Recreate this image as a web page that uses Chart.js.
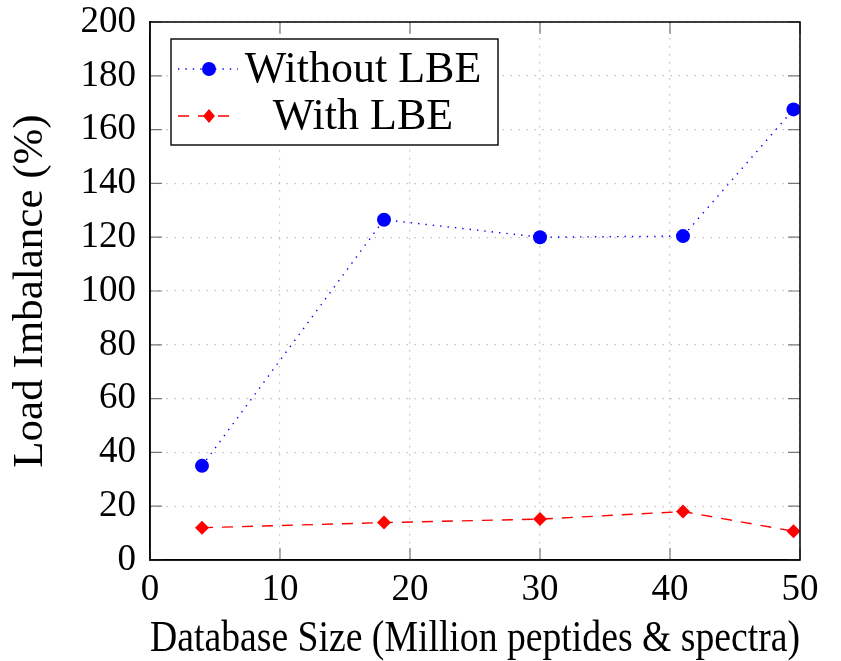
<!DOCTYPE html>
<html>
<head>
<meta charset="utf-8">
<script src="https://cdn.jsdelivr.net/npm/chart.js@4/dist/chart.umd.min.js"></script>
<style>
  html, body { margin: 0; padding: 0; background: #fff; }
  #wrap { width: 841px; height: 661px; }
</style>
</head>
<body>
<div id="wrap"><canvas id="c" width="841" height="661"></canvas></div>
<script>
// ---- data ----
const databaseSize = [4, 18, 30, 41, 49.5];
const withoutLBE = [35, 126.5, 120, 120.4, 167.5];
const withLBE = [12, 13.9, 15.2, 18, 10.7];
const seriesLabels = ['Without LBE', 'With LBE'];
const xTicks = [0, 10, 20, 30, 40, 50];
const yTicks = [0, 20, 40, 60, 80, 100, 120, 140, 160, 180, 200];
const xTitle = 'Database Size (Million peptides & spectra)';
const yTitle = 'Load Imbalance (%)';

const FONT = '"Liberation Serif", "Times New Roman", serif';

function toPoints(xs, ys) { return xs.map((x, i) => ({ x: x, y: ys[i] })); }

// frame + inward ticks (pgfplots style)
const framePlugin = {
  id: 'frame',
  afterDatasetsDraw(chart) {
    const { ctx, chartArea: a, scales } = chart;
    ctx.save();
    ctx.strokeStyle = '#777';
    ctx.lineWidth = 1.2;
    const L = 12;
    ctx.beginPath();
    xTicks.forEach(v => {
      const px = scales.x.getPixelForValue(v);
      ctx.moveTo(px, a.bottom); ctx.lineTo(px, a.bottom - L);
      ctx.moveTo(px, a.top); ctx.lineTo(px, a.top + L);
    });
    yTicks.forEach(v => {
      const py = scales.y.getPixelForValue(v);
      ctx.moveTo(a.left, py); ctx.lineTo(a.left + L, py);
      ctx.moveTo(a.right, py); ctx.lineTo(a.right - L, py);
    });
    ctx.stroke();
    ctx.strokeStyle = '#000';
    ctx.lineWidth = 1.5;
    ctx.strokeRect(a.left, a.top, a.right - a.left, a.bottom - a.top);
    ctx.restore();
  }
};

function drawMarker(ctx, style, r, x, y) {
  ctx.beginPath();
  if (style === 'circle') {
    ctx.arc(x, y, r, 0, Math.PI * 2);
  } else {
    ctx.moveTo(x, y - r); ctx.lineTo(x + r * 0.85, y); ctx.lineTo(x, y + r); ctx.lineTo(x - r * 0.85, y); ctx.closePath();
  }
  ctx.fill();
}

const legendPlugin = {
  id: 'boxLegend',
  afterDraw(chart) {
    const { ctx, chartArea: a } = chart;
    const x0 = a.left + 21, y0 = a.top + 17, w = 327, h = 106;
    ctx.save();
    ctx.fillStyle = '#fff';
    ctx.fillRect(x0, y0, w, h);
    ctx.strokeStyle = '#000';
    ctx.lineWidth = 1.4;
    ctx.strokeRect(x0, y0, w, h);
    chart.data.datasets.forEach((ds, i) => {
      const cy = y0 + 30 + i * 47;
      ctx.strokeStyle = ds.borderColor;
      ctx.lineWidth = ds.borderWidth;
      ctx.setLineDash(ds.borderDash);
      ctx.beginPath();
      ctx.moveTo(x0 + 7, cy); ctx.lineTo(x0 + 67, cy);
      ctx.stroke();
      ctx.setLineDash([]);
      ctx.fillStyle = ds.backgroundColor;
      drawMarker(ctx, ds.pointStyle === 'circle' ? 'circle' : 'diamond', ds.pointRadius, x0 + 38, cy);
      ctx.fillStyle = '#000';
      ctx.font = '44px ' + FONT;
      ctx.textAlign = 'center';
      ctx.textBaseline = 'middle';
      ctx.fillText(ds.label, x0 + 192, cy + 1);
    });
    ctx.restore();
  }
};

new Chart(document.getElementById('c'), {
  type: 'line',
  data: {
    datasets: [
      {
        label: seriesLabels[0],
        data: toPoints(databaseSize, withoutLBE),
        borderColor: '#0000ff',
        backgroundColor: '#0000ff',
        borderWidth: 1.4,
        borderDash: [1.4, 6],
        pointStyle: 'circle',
        pointRadius: 7,
        pointBorderWidth: 0,
        tension: 0
      },
      {
        label: seriesLabels[1],
        data: toPoints(databaseSize, withLBE),
        borderColor: '#ff0000',
        backgroundColor: '#ff0000',
        borderWidth: 1.4,
        borderDash: [11, 9],
        pointStyle: 'rectRot',
        pointRadius: 7,
        pointBorderWidth: 0,
        tension: 0
      }
    ]
  },
  options: {
    responsive: false,
    animation: false,
    events: [],
    layout: { padding: { top: 22, right: 41, left: 0, bottom: 0 } },
    plugins: {
      legend: { display: false },
      tooltip: { enabled: false }
    },
    scales: {
      x: {
        type: 'linear',
        min: 0, max: 50,
        afterBuildTicks: s => { s.ticks = xTicks.map(v => ({ value: v })); },
        afterFit: s => { s.height = 101; },
        grid: { color: '#bdbdbd', lineWidth: 1.2, drawTicks: false },
        border: { display: true, color: '#000', width: 1.5, dash: [1.4, 6.6] },
        ticks: { color: '#000', padding: 8, maxRotation: 0, font: { family: FONT, size: 37 } },
        title: {
          display: true, text: xTitle, color: '#000',
          font: { family: FONT, size: 44, lineHeight: 1 },
          padding: { top: 0, bottom: 0 }
        }
      },
      y: {
        type: 'linear',
        min: 0, max: 200,
        afterBuildTicks: s => { s.ticks = yTicks.map(v => ({ value: v })); },
        afterFit: s => { s.width = 150; },
        grid: { color: '#bdbdbd', lineWidth: 1.2, drawTicks: false },
        border: { display: true, color: '#000', width: 1.5, dash: [1.4, 6.6] },
        ticks: { color: '#000', padding: 14, font: { family: FONT, size: 37, lineHeight: 0.4 } },
        title: {
          display: true, text: yTitle, color: '#000',
          font: { family: FONT, size: 43, lineHeight: 1 },
          padding: { top: 9, bottom: 0 }
        }
      }
    }
  },
  plugins: [framePlugin, legendPlugin]
});
</script>
</body>
</html>
